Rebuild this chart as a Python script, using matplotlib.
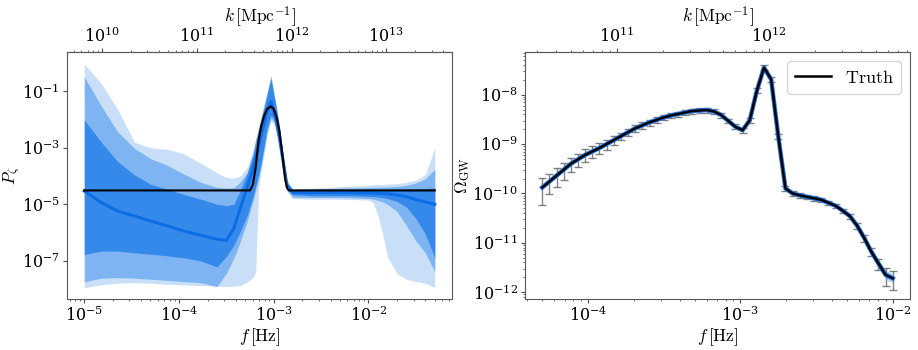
import numpy as np
import matplotlib
matplotlib.use("Agg")
import matplotlib.pyplot as plt

plt.rcParams["mathtext.fontset"] = "cm"
plt.rcParams["font.family"] = ["DejaVu Serif"]

# ---------------- Left panel: P_zeta reconstruction (log10 values) ----------------
grid_logf = [-5.0, -4.82, -4.65, -4.47, -4.30, -4.12, -3.95, -3.77, -3.60, -3.50, -3.42, -3.35, -3.28,
             -3.22, -3.19, -3.16, -3.13, -3.10, -3.07, -3.03, -3.00, -2.97, -2.94, -2.90, -2.86, -2.80,
             -2.60, -2.40, -2.20, -2.00, -1.95, -1.90, -1.85, -1.80, -1.70, -1.60, -1.50, -1.40, -1.30]

upper3 = [-0.03, -0.72, -1.62, -2.80, -3.00, -3.05, -3.21, -3.55, -3.88, -4.05, -4.08, -3.99, -3.70,
          -3.10, -2.66, -2.25, -1.84, -1.43, -1.02, -0.40, -1.00, -1.55, -2.20, -3.20, -4.15, -4.45,
          -4.43, -4.40, -4.36, -4.32, -4.31, -4.30, -4.30, -4.29, -4.27, -4.22, -4.15, -3.95, -3.00]
upper2 = [-0.48, -1.52, -2.42, -3.02, -3.38, -3.62, -3.93, -4.22, -4.40, -4.43, -4.41, -4.20, -3.88,
          -3.20, -2.72, -2.32, -1.90, -1.49, -1.07, -0.47, -1.05, -1.60, -2.25, -3.25, -4.20, -4.47,
          -4.45, -4.44, -4.42, -4.41, -4.40, -4.40, -4.39, -4.39, -4.37, -4.33, -4.25, -4.10, -3.76]
upper1 = [-2.01, -2.80, -3.48, -3.96, -4.29, -4.47, -4.65, -4.82, -5.00, -5.05, -5.00, -4.50, -3.90,
          -3.30, -2.80, -2.40, -1.95, -1.55, -1.12, -0.55, -1.10, -1.65, -2.30, -3.30, -4.25, -4.49,
          -4.48, -4.48, -4.48, -4.48, -4.48, -4.48, -4.48, -4.48, -4.47, -4.47, -4.46, -4.45, -4.42]
median = [-4.53, -4.94, -5.24, -5.42, -5.59, -5.77, -5.95, -6.10, -6.24, -6.28, -5.85, -5.10, -4.40,
          -3.75, -3.35, -2.95, -2.50, -2.10, -1.70, -1.35, -1.70, -2.10, -2.65, -3.50, -4.33, -4.58,
          -4.59, -4.59, -4.59, -4.60, -4.60, -4.61, -4.62, -4.63, -4.67, -4.73, -4.83, -4.92, -5.00]
lower1 = [-6.78, -6.66, -6.66, -6.72, -6.77, -6.83, -6.90, -7.01, -7.22, -6.85, -6.45, -5.95, -5.40,
          -4.75, -4.35, -3.95, -3.45, -2.90, -2.30, -1.85, -1.95, -2.25, -2.75, -3.60, -4.45, -4.66,
          -4.70, -4.70, -4.70, -4.72, -4.73, -4.74, -4.76, -4.80, -4.90, -5.10, -5.50, -6.05, -6.90]
lower2 = [-7.75, -7.62, -7.60, -7.62, -7.66, -7.70, -7.74, -7.78, -7.92, -7.45, -6.90, -6.30, -5.60,
          -4.90, -4.50, -4.10, -3.60, -3.05, -2.45, -1.95, -2.05, -2.35, -2.90, -3.70, -4.50, -4.75,
          -4.76, -4.76, -4.77, -4.80, -4.82, -4.86, -4.92, -5.00, -5.25, -5.75, -6.30, -6.72, -7.40]
lower3 = [-7.96, -7.85, -7.80, -7.78, -7.80, -7.84, -7.86, -7.88, -7.90, -7.92, -7.90, -7.88, -7.75,
          -7.60, -7.40, -4.40, -3.80, -3.15, -2.55, -2.05, -2.15, -2.45, -3.00, -3.80, -4.55, -4.80,
          -4.82, -4.82, -4.83, -4.85, -4.95, -5.40, -6.05, -6.85, -7.45, -7.66, -7.74, -7.80, -7.95]

truth_logf = [-5.0, -3.25, -3.22, -3.19, -3.16, -3.13, -3.10, -3.07, -3.03, -3.00, -2.97, -2.94,
              -2.91, -2.88, -2.86, -2.84, -1.30]
truth_logP = [-4.51, -4.51, -4.30, -3.69, -2.74, -2.20, -1.85, -1.62, -1.53, -1.62, -1.90, -2.40,
              -3.20, -4.10, -4.42, -4.51, -4.51]

# ---------------- Right panel: Omega_GW (log10 values) ----------------
omega_log = [-9.88, -9.76, -9.64, -9.52, -9.40, -9.31, -9.22, -9.15, -9.08, -9.00,
             -8.92, -8.84, -8.76, -8.68, -8.62, -8.56, -8.51, -8.46, -8.42, -8.39,
             -8.36, -8.33, -8.32, -8.31, -8.34, -8.41, -8.53, -8.65, -8.72, -8.52,
             -7.92, -7.45, -7.69, -8.85, -9.90, -10.00, -10.04, -10.07, -10.10, -10.13,
             -10.19, -10.25, -10.35, -10.46, -10.65, -10.90, -11.18, -11.42, -11.65, -11.72]
sig_rel = [0.55, 0.45, 0.41, 0.37, 0.33, 0.31, 0.29, 0.27, 0.25, 0.23,
           0.20, 0.18, 0.17, 0.16, 0.15, 0.14, 0.125, 0.12, 0.12, 0.12,
           0.115, 0.115, 0.115, 0.115, 0.115, 0.115, 0.115, 0.115, 0.115, 0.115,
           0.115, 0.115, 0.115, 0.115, 0.115, 0.10, 0.10, 0.10, 0.10, 0.10,
           0.10, 0.10, 0.10, 0.115, 0.14, 0.16, 0.18, 0.25, 0.40, 0.43]
band_dex = [0.03] * 40 + [0.035, 0.04, 0.04, 0.045, 0.05, 0.06, 0.07, 0.08, 0.09, 0.09]
f_min, f_max, n_pts = 5e-5, 1e-2, 50

# tick positions
left_fticks = [1e-5, 1e-4, 1e-3, 1e-2]
left_kticks = [1e10, 1e11, 1e12, 1e13]
left_pticks = [1e-7, 1e-5, 1e-3, 1e-1]
right_fticks = [1e-4, 1e-3, 1e-2]
right_kticks = [1e11, 1e12]
right_oticks = [1e-12, 1e-11, 1e-10, 1e-9, 1e-8]

C3, C2, C1, CMED = "#c9dff8", "#7db4f1", "#3489ea", "#0d6de4"


def f2k(f):
    return np.asarray(f) / 1.546e-15


def k2f(k):
    return np.asarray(k) * 1.546e-15


fig = plt.figure(figsize=(9.18, 3.5), dpi=100)
ax1 = fig.add_axes([0.0727, 0.1457, 0.42, 0.705])
ax2 = fig.add_axes([0.5716, 0.1457, 0.42, 0.705])

x = 10 ** np.array(grid_logf)
ax1.fill_between(x, 10 ** np.array(lower3), 10 ** np.array(upper3), color=C3, lw=0)
ax1.fill_between(x, 10 ** np.array(lower2), 10 ** np.array(upper2), color=C2, lw=0)
ax1.fill_between(x, 10 ** np.array(lower1), 10 ** np.array(upper1), color=C1, lw=0)
ax1.plot(x, 10 ** np.array(median), color=CMED, lw=2.2)
ax1.plot(10 ** np.array(truth_logf), 10 ** np.array(truth_logP), color="k", lw=1.5)
ax1.set_xscale("log")
ax1.set_yscale("log")
ax1.set_xlim(10 ** -5.185, 10 ** -1.115)
ax1.set_ylim(10 ** -8.36, 10 ** 0.39)
ax1.set_xticks(left_fticks)
ax1.set_yticks(left_pticks)
ax1.set_xlabel(r"$f\,[\mathrm{Hz}]$", fontsize=12.5, labelpad=1)
ax1.set_ylabel(r"$P_\zeta$", fontsize=12.5, labelpad=0)

fgw = np.geomspace(f_min, f_max, n_pts)
om = 10 ** np.array(omega_log)
bd = 10 ** np.array(band_dex)
ax2.errorbar(fgw, om, yerr=om * np.array(sig_rel), fmt="none", ecolor="0.35", alpha=0.75,
             capsize=3, elinewidth=1, capthick=1, zorder=1)
ax2.fill_between(fgw, om / bd, om * bd, color="#4b97ee", alpha=0.45, lw=0, zorder=2)
ax2.plot(fgw, om, color="#1a73e8", lw=3.2, zorder=3)
ax2.plot(fgw, om, color="k", lw=1.8, zorder=4, label=r"$\mathrm{Truth}$")
ax2.set_xscale("log")
ax2.set_yscale("log")
ax2.set_xlim(10 ** -4.416, 10 ** -1.885)
ax2.set_ylim(10 ** -12.14, 10 ** -7.14)
ax2.set_xticks(right_fticks)
ax2.set_yticks(right_oticks)
ax2.set_xlabel(r"$f\,[\mathrm{Hz}]$", fontsize=12.5, labelpad=1)
ax2.set_ylabel(r"$\Omega_{\mathrm{GW}}$", fontsize=12.5, labelpad=0)
ax2.legend(loc="upper right", fontsize=13, handlelength=2.0)

for ax, kt in ((ax1, left_kticks), (ax2, right_kticks)):
    sec = ax.secondary_xaxis("top", functions=(f2k, k2f))
    sec.set_xticks(kt)
    sec.set_xlabel(r"$k\,[\mathrm{Mpc}^{-1}]$", fontsize=12.5, labelpad=4)
    sec.tick_params(which="major", length=3, width=0.8, pad=1.5, labelsize=11.5,
                    color="0.3", labelcolor="k")
    sec.tick_params(which="minor", length=1.7, width=0.6, color="0.3")
    sec.spines["top"].set_color("0.35")
    ax.tick_params(which="major", length=3, width=0.8, pad=2, labelsize=11.5,
                   color="0.3", labelcolor="k")
    ax.tick_params(which="minor", length=1.7, width=0.6, color="0.3")
    for s in ax.spines.values():
        s.set_color("0.35")

fig.savefig("out.png", dpi=100)
